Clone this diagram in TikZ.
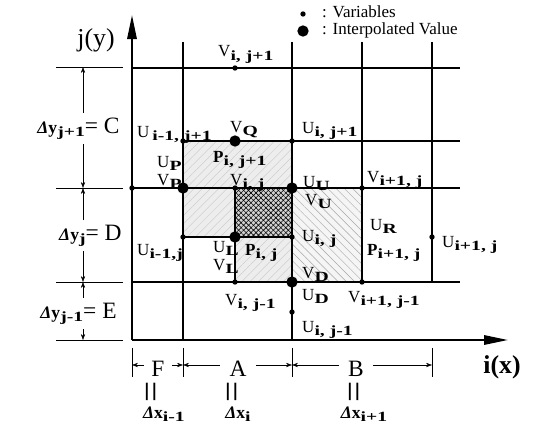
\documentclass[tikz,border=0pt]{standalone}
\usepackage{fontspec}
\setmainfont{Liberation Serif}
\newfontfamily\subfont[FakeStretch=1.4]{Liberation Serif}
\usetikzlibrary{arrows.meta,positioning,patterns.meta}

\newcommand{\idx}[2]{#1\raisebox{-0.2em}{\fontsize{12}{12}\selectfont\subfont\bfseries #2}}
\newcommand{\dlt}[1]{\textbf{\textit{Δ}#1}}

\begin{document}
\begin{tikzpicture}[
    x=0.03cm, y=-0.03cm,
    every node/.style={font=\fontsize{14.5}{16}\selectfont},
    var/.style={circle, fill, inner sep=0pt, minimum size=0.16cm},
    interp/.style={circle, fill, inner sep=0pt, minimum size=0.34cm},
    lbl/.style={anchor=base west, inner sep=0pt},
    big/.style={font=\fontsize{20}{22}\selectfont},
    gridln/.style={line width=1.1pt},
    axis/.style={line width=1.8pt, -{Triangle[length=0.72cm, width=0.28cm]}},
    dim/.style={thin, {Stealth[length=1.8mm, width=1.3mm]}-{Stealth[length=1.8mm, width=1.3mm]}},
    ext/.style={thin},
    cut/.style={fill=white, inner xsep=1pt, inner ysep=4pt},
    vbars/.style={rotate=90, inner sep=0pt, font=\fontsize{32}{32}\selectfont},
    hatch/.style={pattern={Lines[angle=-45, distance=5pt, line width=0.4pt]}, pattern color=gray!70}
]
\useasboundingbox (0,0) rectangle (535,424);

% shaded cells
\foreach \xa/\ya/\xb/\yb in {183/141/292/188, 183/188/235/237, 235/237/292/282} {
  \fill[gray!14] (\xa,\ya) rectangle (\xb,\yb);
  \fill[pattern={Lines[angle=45, distance=5pt, line width=0.3pt]}, pattern color=gray!45] (\xa,\ya) rectangle (\xb,\yb);
}
\fill[gray!35] (235,188) rectangle (292,237);
\fill[pattern={Lines[angle=45, distance=3pt, line width=0.5pt]}] (235,188) rectangle (292,237);
\fill[pattern={Lines[angle=-45, distance=3pt, line width=0.5pt]}] (235,188) rectangle (292,237);
\fill[gray!8] (292,188) rectangle (362,282);
\fill[hatch] (292,188) rectangle (362,282);

% grid
\foreach \yy/\xa in {68/132, 141/183, 188/132, 282/132}
  \draw[gridln] (\xa,\yy) -- (460,\yy);
\draw[gridln] (183,237) -- (292,237);
\foreach \xx/\yb in {183/340, 292/340, 362/282, 432/282}
  \draw[gridln] (\xx,42) -- (\xx,\yb);
\draw[gridln] (235,188) -- (235,282);

% axes
\coordinate (orig) at (132,340);
\coordinate (ytip) at (132,15);
\coordinate (xtip) at (508,340);
\draw[axis] (orig) -- (ytip);
\draw[axis] (orig) -- (xtip);
\node[big, font=\fontsize{22}{24}\selectfont] (ylab) at (96,40) {j(y)};
\node[big, font=\bfseries\fontsize{22}{24}\selectfont] (xlab) at (502,367) {i(x)};

% variables and interpolated values
\node[var] (vN) at (235,68) {};
\node[var] (uNW) at (183,141) {};
\node[interp] (vQ) at (235,141) {};
\node[var] (uN) at (292,141) {};
\node[var] (axj) at (132,188) {};
\node[interp] (vP) at (183,188) {};
\node[var] (vC) at (235,188) {};
\node[interp] (uU) at (292,188) {};
\node[var] (vE) at (362,188) {};
\node[var] (uW) at (183,237) {};
\node[interp] (uL) at (235,237) {};
\node[var] (uC) at (292,237) {};
\node[var] (uE) at (432,237) {};
\node[var] (vS) at (235,282) {};
\node[interp] (vD) at (292,282) {};
\node[var] (vSE) at (362,282) {};
\node[var] (uS) at (292,312) {};

\node[lbl] (tvN) at (218,57) {\idx{V}{i, j+1}};
\node[lbl] (tuNW) at (137,137) {\idx{U\,}{i-1, j+1}};
\node[lbl] (tvQ) at (230,132) {\idx{V}{Q}};
\node[lbl] (tuN) at (302,133) {\idx{U}{i, j+1}};
\node[lbl] (tuP) at (157,167) {\idx{U}{P}};
\node[lbl] (tvP) at (157,185) {\idx{V}{P}};
\node[lbl] (tpN) at (213,162) {\idx{\textbf{P}}{i, j+1}};
\node[lbl] (tvC) at (230,185) {\idx{V}{i, j}};
\node[lbl] (tuU) at (303,187) {\idx{U}{U}};
\node[lbl] (tvU) at (305,205) {\idx{V}{U}};
\node[lbl] (tvE) at (367,182) {\idx{V}{i+1, j}};
\node[lbl] (tuW) at (137,255) {\idx{U}{i-1,j}};
\node[lbl] (tuL) at (213,252) {\idx{U}{L}};
\node[lbl] (tvL) at (213,270) {\idx{V}{L}};
\node[lbl] (tpC) at (245,255) {\idx{\textbf{P}}{i, j}};
\node[lbl] (tuC) at (302,241) {\idx{U}{i, j}};
\node[lbl] (tvD) at (302,278) {\idx{V}{D}};
\node[lbl] (tuD) at (302,300) {\idx{U}{D}};
\node[lbl] (tvSE) at (348,302) {\idx{V}{i+1, j-1}};
\node[lbl] (tuS) at (302,332) {\idx{U}{i, j-1}};
\node[lbl] (tvS) at (225,305) {\idx{V}{i, j-1}};
\node[lbl] (tuR) at (370,230) {\idx{U}{R}};
\node[lbl] (tpE) at (367,255) {\idx{\textbf{P}}{i+1, j}};
\node[lbl] (tuE) at (442,247) {\idx{U}{i+1, j}};

% legend
\node[var] (legvar) at (303,14) {};
\node[interp] (legint) at (303,31) {};
\node[lbl] (legvartxt) at (322,18) {: Variables};
\node[lbl] (leginttxt) at (322,35) {: Interpolated Value};

% spacing in y
\foreach \yy in {67,188,282,340}
  \draw[ext] (56,\yy) -- (123,\yy);
\coordinate (dy0) at (83,67);
\coordinate (dy1) at (83,188);
\coordinate (dy2) at (83,282);
\coordinate (dy3) at (83,340);
\draw[dim] (dy0) -- (dy1);
\draw[dim] (dy1) -- (dy2);
\draw[dim] (dy2) -- (dy3);
\node[cut, anchor=base east] (lblC) at (121,133)
  {{\fontsize{15}{18}\selectfont\idx{\dlt{y}}{j+1}}{\fontsize{20}{22}\selectfont= C}};
\node[cut, anchor=base east] (lblD) at (123,240)
  {{\fontsize{15}{18}\selectfont\idx{\dlt{y}}{j}}{\fontsize{20}{22}\selectfont= D}};
\node[cut, anchor=base east] (lblE) at (118,318)
  {{\fontsize{15}{18}\selectfont\idx{\dlt{y}}{j-1}}{\fontsize{20}{22}\selectfont= E}};

% spacing in x
\foreach \xx in {132,183,292,432}
  \draw[ext] (\xx,348) -- (\xx,377);
\coordinate (dx0) at (132,365);
\coordinate (dx1) at (183,365);
\coordinate (dx2) at (292,365);
\coordinate (dx3) at (432,365);
\draw[dim] (dx0) -- (dx1);
\draw[dim] (dx1) -- (dx2);
\draw[dim] (dx2) -- (dx3);
\node[big, cut, inner xsep=6pt, anchor=base] (lblF) at (158,376) {F};
\node[big, cut, inner xsep=8pt, anchor=base] (lblA) at (238,376) {A};
\node[big, cut, inner xsep=8pt, anchor=base] (lblB) at (356,376) {B};
\node[vbars] (eqF) at (155,392) {=};
\node[vbars] (eqA) at (236,392) {=};
\node[vbars] (eqB) at (358,392) {=};
\node[anchor=base] (dxF) at (164,418) {\fontsize{15}{18}\selectfont\idx{\dlt{x}}{i-1}};
\node[anchor=base] (dxA) at (238,418) {\fontsize{15}{18}\selectfont\idx{\dlt{x}}{i}};
\node[anchor=base] (dxB) at (364,418) {\fontsize{15}{18}\selectfont\idx{\dlt{x}}{i+1}};
\end{tikzpicture}
\end{document}
